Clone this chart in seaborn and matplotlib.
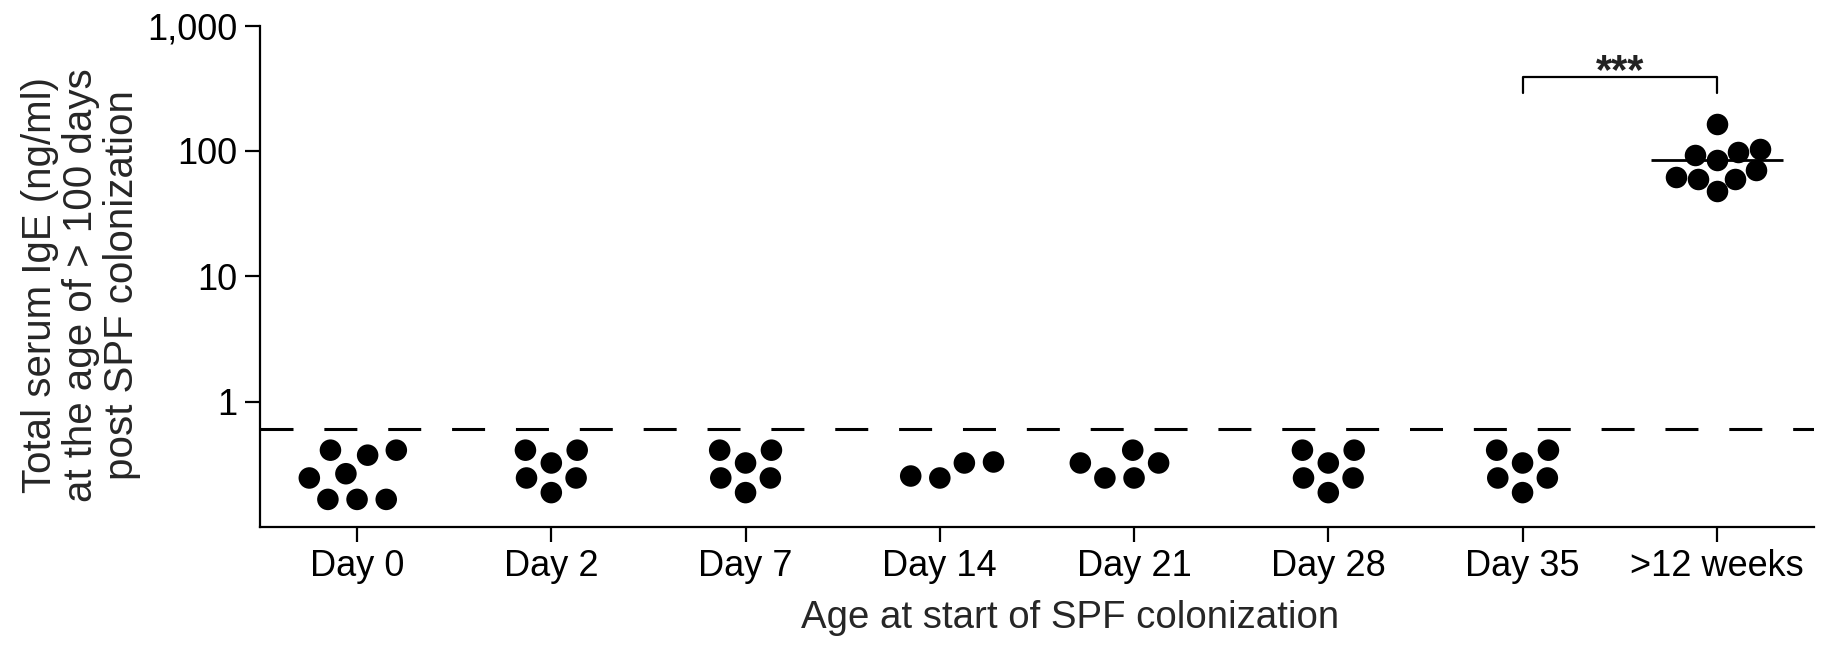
import numpy as np
import pandas as pd
import matplotlib
matplotlib.use("Agg")
import matplotlib.pyplot as plt
import seaborn as sns

# ---- data ----
categories = ["Day 0", "Day 2", "Day 7", "Day 14", "Day 21", "Day 28", "Day 35", ">12 weeks"]
day0 = [0.41, 0.374, 0.41, 0.266, 0.246, 0.166, 0.166, 0.166]
day2 = [0.41, 0.41, 0.324, 0.246, 0.246, 0.188]
day7 = [0.41, 0.41, 0.324, 0.246, 0.246, 0.188]
day14 = [0.33, 0.324, 0.255, 0.246]
day21 = [0.41, 0.324, 0.324, 0.246, 0.246]
day28 = [0.41, 0.41, 0.324, 0.246, 0.246, 0.188]
day35 = [0.41, 0.41, 0.324, 0.246, 0.246, 0.188]
weeks12 = [165, 104, 98, 92, 84, 70, 62, 60, 60, 48]
detection_limit = 0.6
y_ticks = [1, 10, 100, 1000]
y_tick_labels = ["1", "10", "100", "1,000"]
significance = "***"
bracket_top = 387
bracket_foot = 288
star_y = 345

groups = [day0, day2, day7, day14, day21, day28, day35, weeks12]
df = pd.DataFrame({
    "group": np.repeat(categories, [len(g) for g in groups]),
    "ige": np.concatenate(groups),
})

sns.set_style("ticks")
plt.rcParams["font.family"] = ["Liberation Sans", "DejaVu Sans"]

fig = plt.figure(figsize=(18.28, 6.51), dpi=100)
ax = fig.add_axes([0.1422, 0.1905, 0.8501, 0.7702])
ax.set_yscale("log")

low = df[df["group"] != ">12 weeks"]
high = df[df["group"] == ">12 weeks"]
# invisible edge widens the swarm spacing like the original dot plot
sns.swarmplot(data=low, x="group", y="ige", order=categories, color="black",
              size=15.5, linewidth=4.5, edgecolor="none", ax=ax)
sns.swarmplot(data=high, x="group", y="ige", order=categories, color="black",
              size=15.5, linewidth=0, ax=ax)

# mean line for the >12 weeks group
i_last = categories.index(">12 weeks")
ax.hlines(np.mean(weeks12), i_last - 0.34, i_last + 0.34, color="black", lw=2, zorder=5)

# detection limit
ax.axhline(detection_limit, color="black", lw=2.2, dashes=(10.8, 10.1), zorder=1)

# significance bracket
i_a = categories.index("Day 35")
ax.plot([i_a, i_a, i_last, i_last], [bracket_foot, bracket_top, bracket_top, bracket_foot],
        color="black", lw=1.6, clip_on=False)
ax.text((i_a + i_last) / 2, star_y, significance, ha="center", va="baseline",
        fontsize=30, fontweight="bold", color="#222222")

ax.set_xlim(-0.5, len(categories) - 0.5)
ax.set_ylim(0.1, 1000)
ax.set_yticks(y_ticks)
ax.set_yticklabels(y_tick_labels)
ax.yaxis.set_minor_locator(matplotlib.ticker.NullLocator())

ax.set_xlabel("Age at start of SPF colonization", fontsize=27.6)
ax.xaxis.set_label_coords(0.521, -0.145)
ax.set_ylabel("Total serum IgE (ng/ml)\nat the age of > 100 days\npost SPF colonization",
              fontsize=29, linespacing=1.1)
ax.yaxis.set_label_coords(-0.0766, 0.483)

ax.tick_params(axis="both", labelsize=26, width=1.6, length=11, color="black",
               labelcolor="black", pad=5)
for side in ["top", "right"]:
    ax.spines[side].set_visible(False)
for side in ["left", "bottom"]:
    ax.spines[side].set_linewidth(1.6)
    ax.spines[side].set_color("black")

fig.savefig("out.png", dpi=100, facecolor="white")
